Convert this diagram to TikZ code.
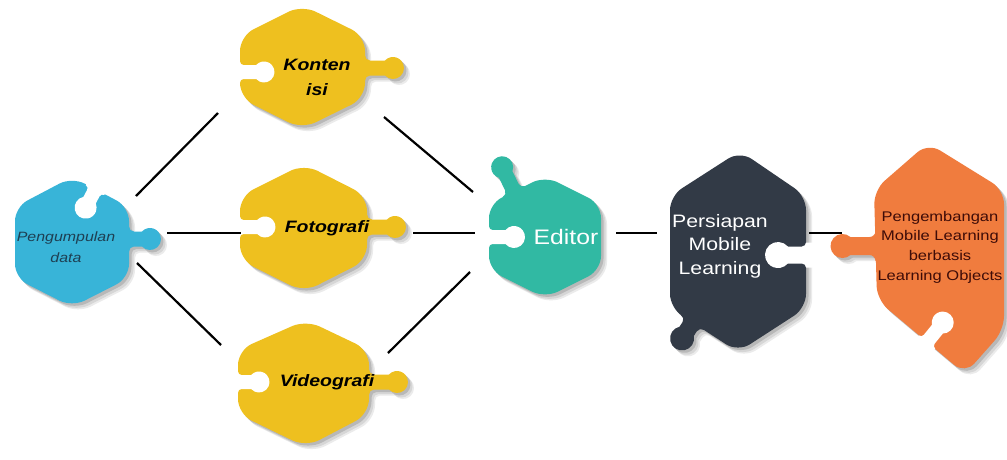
\documentclass[tikz,border=0pt]{standalone}
\usepackage{fontspec}
\setmainfont{Liberation Sans}[FakeStretch=1.18]
\definecolor{pdblue}{HTML}{38B4D8}
\definecolor{pdtxt}{HTML}{1E3F52}
\definecolor{yel}{HTML}{EEC01F}
\definecolor{teal}{HTML}{31B9A3}
\definecolor{darkp}{HTML}{323A46}
\definecolor{orng}{HTML}{F07C3E}
\definecolor{ortxt}{HTML}{3E0C08}
% knob: x y angle dist radius neckhalf fillet
\newcommand\knobat[7]{%
  \pgfmathsetmacro\kxj{#4-sqrt(#5*#5-#6*#6)}%
  \pgfmathsetmacro\kang{asin(#6/#5)}%
  \begin{scope}[shift={(#1,#2)},rotate=#3,y=1pt]
    \fill (-7,{-#6-#7}) -- (0,{-#6-#7}) .. controls (0,{-#6-0.45*#7}) and ({0.45*#7},-#6) .. (#7,-#6)
      -- (\kxj,-#6) arc[start angle={180+\kang}, end angle={540-\kang}, radius=#5]
      -- (#7,#6) .. controls ({0.45*#7},#6) and (0,{#6+0.45*#7}) .. (0,{#6+#7}) -- (-7,{#6+#7}) -- cycle;
  \end{scope}}
\newcommand\notchat[7]{\begin{scope}[fill=white]\knobat{#1}{#2}{#3}{#4}{#5}{#6}{#7}\end{scope}}
\newcommand\piecedraw[2]{%
  \begin{scope}[fill=black!8,shift={(6,6)}]#2\end{scope}
  \begin{scope}[fill=black!16,shift={(4.5,4.5)}]#2\end{scope}
  \begin{scope}[fill=black!28,shift={(2.5,2.5)}]#2\end{scope}
  \begin{scope}[fill=#1]#2\end{scope}}
\newcommand\bodyPD{\fill[rounded corners=14pt] (72,177) -- (129,207) -- (129,278) -- (72,307) -- (15,278) -- (15,207) -- cycle;
  \knobat{129}{239}{0}{21}{11}{7.5}{5}}
\newcommand\bodyKI{\fill[rounded corners=15pt] (302,5) -- (365,36) -- (365,98) -- (302,129) -- (240,98) -- (240,36) -- cycle;
  \knobat{365}{68}{0}{28}{11}{7.5}{5}}
\newcommand\bodyFO{\fill[rounded corners=15pt] (304,164) -- (367,196) -- (367,260) -- (304,292) -- (240,260) -- (240,196) -- cycle;
  \knobat{367}{227}{0}{28}{11}{7.5}{5}}
\newcommand\bodyVI{\fill[rounded corners=15pt] (306,320) -- (369,350) -- (369,414) -- (306,447) -- (238,414) -- (238,350) -- cycle;
  \knobat{369}{382}{0}{28}{11}{7.5}{5}}
\newcommand\bodyED{\fill[rounded corners=14pt] (545,176) -- (601,204) -- (601,270) -- (545,298) -- (489,270) -- (489,204) -- cycle;
  \knobat{514}{191.5}{116}{27}{11}{7.5}{5}}
\newcommand\bodyPM{\fill[rounded corners=14pt] (740,151) -- (806,196) -- (806,308) -- (738,352) -- (670,308) -- (670,196) -- cycle;
  \knobat{692.4}{322.5}{237}{19}{12}{8.5}{5}}
\newcommand\bodyOR{\fill[rounded corners=14pt] (928,143) -- (1004,190) -- (1004,330) -- (965,374) -- (877,300) -- (874,190) -- cycle;
  \knobat{875.5}{246}{180}{33}{12}{9}{6}}
\tikzset{
  conn/.style={line width=2.2pt, black},
  lbl/.style={align=center, inner sep=0pt},
  pdlbl/.style={lbl, text=pdtxt, font=\itshape\fontsize{13.5}{20.5}\selectfont},
  ylbl/.style={lbl, text=black, font=\bfseries\itshape\fontsize{16.5}{24.5}\selectfont},
  edlbl/.style={lbl, text=white, font=\fontsize{21}{25}\selectfont},
  pmlbl/.style={lbl, text=white, font=\fontsize{18}{23.5}\selectfont},
  orlbl/.style={lbl, text=ortxt, font=\fontsize{14}{19.7}\selectfont}
}
\begin{document}
\begin{tikzpicture}[x=1pt,y=-1pt]
\useasboundingbox (0,0) rectangle (1007,459);
\fill[white] (0,0) rectangle (1007,459);

% pieces
\piecedraw{pdblue}{\bodyPD}
\notchat{95}{190}{242}{20}{11}{7}{3.5}
\piecedraw{yel}{\bodyKI}
\notchat{240}{72}{0}{24}{10.5}{7}{3.5}
\piecedraw{yel}{\bodyFO}
\notchat{240}{227}{0}{25}{10.5}{7}{3.5}
\piecedraw{yel}{\bodyVI}
\notchat{238}{382}{0}{21}{10.5}{7}{3.5}
\piecedraw{teal}{\bodyED}
\notchat{489}{237}{0}{25}{11}{7}{3.5}
\piecedraw{darkp}{\bodyPM}
\notchat{806}{255}{180}{28}{13}{8.5}{4}
\piecedraw{orng}{\bodyOR}
\notchat{927}{342}{51}{25}{11}{7}{3.5}

% labels
\node[pdlbl] (pd) at (66,247) {Pengumpulan\\data};
\node[ylbl] (ki) at (317,77.5) {Konten\\isi};
\node[ylbl] (fo) at (327,228) {Fotografi};
\node[ylbl] (vi) at (327,382) {Videografi};
\node[edlbl] (ed) at (566,237) {Editor};
\node[pmlbl] (pm) at (720,246) {Persiapan\\Mobile\\Learning};
\node[orlbl] (or) at (940,247) {Pengembangan\\Mobile Learning\\berbasis\\Learning Objects};

% connectors
\coordinate (c1a) at (136,196); \coordinate (c1b) at (218,113);
\coordinate (c2a) at (167,233); \coordinate (c2b) at (241,233);
\coordinate (c3a) at (137,263); \coordinate (c3b) at (221,345);
\coordinate (c4a) at (384,117); \coordinate (c4b) at (473,192);
\coordinate (c5a) at (413,233); \coordinate (c5b) at (475,233);
\coordinate (c6a) at (388,353); \coordinate (c6b) at (470,272);
\coordinate (c7a) at (616,233); \coordinate (c7b) at (657,233);
\coordinate (c8a) at (809,233); \coordinate (c8b) at (842,233);
\draw[conn] (c1a) -- (c1b);
\draw[conn] (c2a) -- (c2b);
\draw[conn] (c3a) -- (c3b);
\draw[conn] (c4a) -- (c4b);
\draw[conn] (c5a) -- (c5b);
\draw[conn] (c6a) -- (c6b);
\draw[conn] (c7a) -- (c7b);
\draw[conn] (c8a) -- (c8b);
\end{tikzpicture}
\end{document}
